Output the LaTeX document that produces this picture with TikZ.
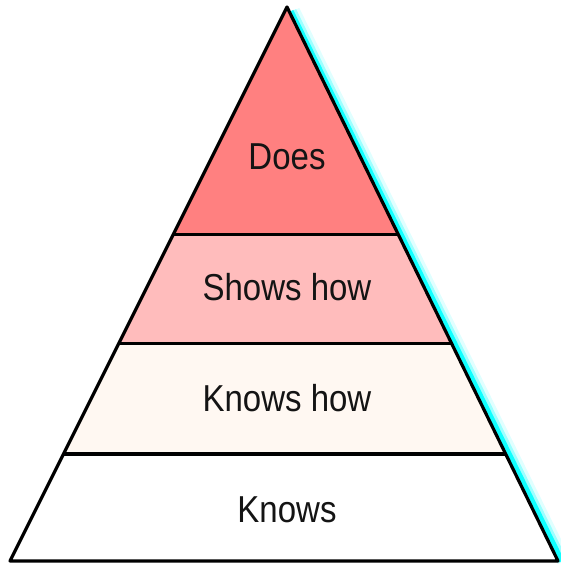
\documentclass[tikz,border=0pt]{standalone}
\usepackage{fontspec}
\setmainfont{Liberation Sans}[FakeStretch=0.88]
\usetikzlibrary{calc}
\begin{document}
\begin{tikzpicture}[x=1pt,y=-1pt,
  edge/.style={line width=3.2pt,line join=round},
  lbl/.style={font=\fontsize{37.5}{40}\selectfont,text=black!92,inner sep=0pt}]
\useasboundingbox (0,0) rectangle (561,565);
\fill[white] (0,0) rectangle (561,565);
\coordinate (A) at (287,7);
\coordinate (L) at (10,561);
\coordinate (R) at (558,561);
% cyan glow on right edge
\foreach \w/\o/\dx in {14/0.12/6,9/0.3/5,5/0.9/4}{
  \draw[color={rgb,255:red,0;green,255;blue,255},line width=\w pt,opacity=\o] ($(A)+(\dx,4)$) -- ($(R)+(\dx,0)$);
}
% layers
\path (A) -- (L) coordinate[pos=0.41] (l1) coordinate[pos=0.608] (l2) coordinate[pos=0.807] (l3);
\path (A) -- (R) coordinate[pos=0.41] (r1) coordinate[pos=0.608] (r2) coordinate[pos=0.807] (r3);
\fill[fill={rgb,255:red,255;green,128;blue,128}] (A) -- (l1) -- (r1) -- cycle;
\fill[fill={rgb,255:red,255;green,188;blue,188}] (l1) -- (l2) -- (r2) -- (r1) -- cycle;
\fill[fill={rgb,255:red,255;green,248;blue,242}] (l2) -- (l3) -- (r3) -- (r2) -- cycle;
\fill[white] (l3) -- (L) -- (R) -- (r3) -- cycle;
\draw[edge] (l1) -- (r1);
\draw[edge] (l2) -- (r2);
\draw[edge] (l3) -- (r3);
\draw[edge] (A) -- (L) -- (R) -- cycle;
\node[lbl] (does) at (287,157) {Does};
\node[lbl] (shows) at (287,287) {Shows how};
\node[lbl] (knowshow) at (287,398) {Knows how};
\node[lbl] (knows) at (287,510) {Knows};
\end{tikzpicture}
\end{document}
